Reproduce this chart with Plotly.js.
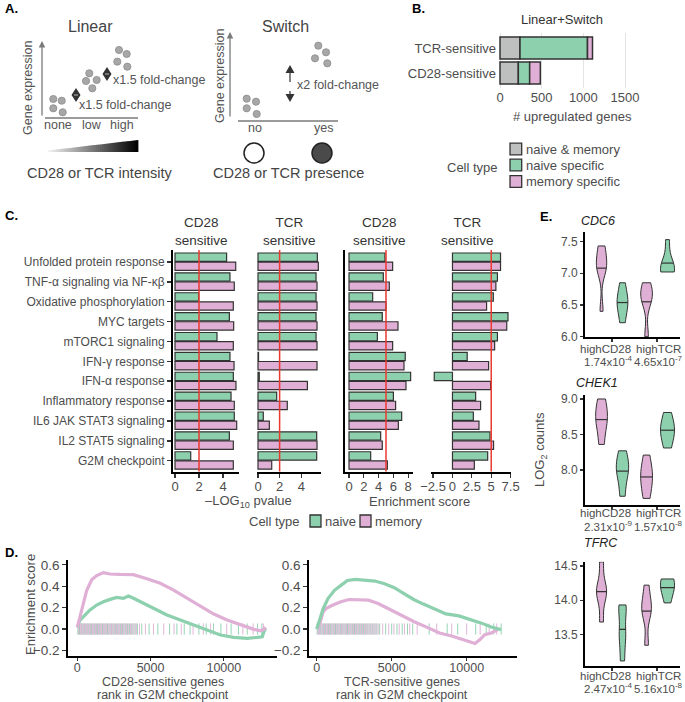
<!DOCTYPE html>
<html><head><meta charset="utf-8">
<script src="https://cdn.plot.ly/plotly-3.0.1.min.js"></script>
<style>body{margin:0;background:#fff}#chart{width:685px;height:702px}
#chart path.meanline{stroke-dasharray:none!important}</style>
</head><body><div id="chart"></div>
<script>
// ---------------- DATA ----------------
// Panel B
const bCategories = ["CD28-sensitive", "TCR-sensitive"];
const bNaiveMemory = [220, 240];
const bNaiveSpecific = [136, 810];
const bMemorySpecific = [128, 60];
const bTicks = [0, 500, 1000, 1500];

// Panel C
const pathways = ["Unfolded protein response", "TNF-α signaling via NF-κβ", "Oxidative phosphorylation",
  "MYC targets", "mTORC1 signaling", "IFN-γ response", "IFN-α response", "Inflammatory response",
  "IL6 JAK STAT3 signaling", "IL2 STAT5 signaling", "G2M checkpoint"];
const cd28PvalNaive  = [4.30, 4.58, 1.97, 4.53, 3.50, 4.58, 4.86, 4.67, 4.94, 4.53, 1.31];
const cd28PvalMemory = [5.06, 4.94, 4.86, 4.89, 4.86, 4.92, 5.08, 4.94, 5.14, 4.86, 4.86];
const tcrPvalNaive   = [5.49, 5.37, 5.37, 5.37, 5.37, 0.05, 0.12, 1.73, 0.49, 5.43, 5.43];
const tcrPvalMemory  = [5.58, 5.46, 5.46, 5.46, 5.46, 5.46, 4.57, 2.71, 1.05, 5.46, 1.27];
const cd28EsNaive    = [4.86, 4.64, 3.20, 4.50, 3.83, 7.60, 8.33, 6.00, 7.12, 4.28, 2.93];
const cd28EsMemory   = [5.90, 5.45, 5.00, 6.62, 5.90, 7.43, 7.70, 6.30, 6.67, 4.50, 5.18];
const tcrEsNaive     = [6.20, 5.80, 5.27, 7.16, 5.80, 1.90, -2.35, 2.99, 2.69, 4.84, 4.54];
const tcrEsMemory    = [6.20, 5.60, 4.40, 7.00, 5.44, 4.66, 4.92, 3.63, 3.42, 5.30, 2.82];
const pvalCutoff = 2;
const esCutoff = 5;

// Panel D (running enrichment score)
const d1MemoryRank = [0, 297, 639, 982, 1324, 1781, 2237, 2922, 3835, 4749, 5662, 6575, 7488, 8401, 9315, 10228, 11141, 12054, 12510, 12739, 12853];
const d1MemoryES   = [0.016, 0.19, 0.36, 0.46, 0.50, 0.527, 0.514, 0.51, 0.508, 0.47, 0.427, 0.364, 0.287, 0.209, 0.14, 0.084, 0.037, -0.003, -0.016, -0.003, 0.016];
const d1NaiveRank  = [0, 183, 525, 868, 1324, 1781, 2237, 2694, 3150, 3493, 3835, 4520, 5205, 6119, 7032, 7945, 8858, 9771, 10684, 11598, 12283, 12625, 12739, 12853];
const d1NaiveES    = [0.016, 0.084, 0.13, 0.178, 0.224, 0.255, 0.277, 0.296, 0.287, 0.308, 0.287, 0.24, 0.193, 0.131, 0.084, 0.037, -0.009, -0.056, -0.078, -0.087, -0.078, -0.072, -0.025, 0.006];
const d2NaiveRank  = [0, 216, 431, 754, 1185, 1616, 2047, 2586, 3232, 3879, 4525, 5172, 5818, 6465, 7112, 7758, 8620, 9482, 10344, 10990, 11637, 12068, 12284];
const d2NaiveES    = [0, 0.086, 0.19, 0.285, 0.362, 0.408, 0.454, 0.463, 0.454, 0.448, 0.423, 0.386, 0.331, 0.276, 0.233, 0.193, 0.141, 0.123, 0.086, 0.055, 0.018, 0.0, -0.006];
const d2MemoryRank = [0, 216, 431, 646, 1077, 1616, 2155, 2802, 3448, 4094, 4741, 5603, 6465, 7327, 8189, 9051, 9913, 10559, 10882, 11205, 11637, 12068];
const d2MemoryES   = [0, 0.055, 0.163, 0.193, 0.224, 0.255, 0.276, 0.276, 0.27, 0.239, 0.193, 0.132, 0.071, 0.018, -0.037, -0.067, -0.104, -0.135, -0.098, -0.052, -0.037, -0.006];
const d1RugNaive  = [40,150,260,330,450,540,660,750,880,960,1080,1190,1300,1380,1500,1610,1720,1830,1950,2060,2170,2290,2380,2510,2620,2730,2850,2960,3080,3190,3310,3420,3560,3680,3800,3950,4100,4400,4900,5500,6300,6800,7300,7700,8300,8800,9300,9800,10500,11000,11600,12300,12600];
const d1RugMemory = [90,200,300,400,500,610,710,820,920,1030,1130,1240,1350,1450,1560,1670,1780,1890,2000,2110,2230,2340,2450,2560,2680,2790,2900,3020,3130,3250,3370,3480,3620,3740,3880,4030,4250,4650,5200,5900,6600,7100,7900,8600,9100,10200,11300,12000,12700];
const d2RugNaive  = [30,140,240,360,470,580,700,790,910,1020,1140,1250,1370,1480,1600,1700,1820,1940,2050,2160,2280,2400,2520,2640,2760,2870,3000,3110,3240,3360,3490,3610,3740,3880,4010,4200,4600,5000,5350,5700,6050,6400,7500,8700,9400,10600,11300,11800,12300];
const d2RugMemory = [80,190,300,410,520,640,740,850,970,1080,1190,1310,1420,1540,1650,1760,1880,1990,2110,2220,2340,2460,2580,2700,2810,2930,3060,3180,3300,3420,3550,3680,3810,3950,4100,4400,4800,5150,5500,5850,6200,6700,8000,9000,10000,10900,11500,12000];

// Panel E (log2 counts per sample)
const conditions = ["highCD28", "highTCR"];
const cdc6PLabels  = ["1.74x10<sup>-4</sup>", "4.65x10<sup>-7</sup>"];
const chek1PLabels = ["2.31x10<sup>-9</sup>", "1.57x10<sup>-8</sup>"];
const tfrcPLabels  = ["2.47x10<sup>-4</sup>", "5.16x10<sup>-8</sup>"];
const cdc6MemCD28   = [6.40, 7.05, 7.15, 7.35, 7.43, 7.10];
const cdc6MemTCR    = [6.00, 6.55, 6.65, 6.70, 6.85];
const cdc6NaiveCD28 = [6.22, 6.45, 6.55, 6.62, 6.85];
const cdc6NaiveTCR  = [7.02, 7.05, 7.08, 7.12, 7.53];
const chek1MemCD28   = [8.36, 8.62, 8.72, 8.85, 9.00];
const chek1MemTCR    = [7.60, 7.78, 7.92, 8.00, 8.21];
const chek1NaiveCD28 = [7.63, 7.90, 8.02, 8.10, 8.27];
const chek1NaiveTCR  = [8.31, 8.48, 8.58, 8.62, 8.81];
const tfrcMemCD28   = [13.68, 14.05, 14.13, 14.20, 14.56];
const tfrcMemTCR    = [13.34, 13.78, 13.88, 13.98, 14.22];
const tfrcNaiveCD28 = [13.11, 13.40, 13.57, 13.85, 13.93];
const tfrcNaiveTCR  = [13.96, 14.15, 14.22, 14.28, 14.31];

// ---------------- HELPERS ----------------
const W = 685, H = 702;
const fx = x => x / W, fy = y => 1 - y / H;
const dx = (a, b) => [a / W, b / W];
const dy = (top, bot) => [1 - bot / H, 1 - top / H];
const GREEN = '#8cd0ae', PINK = '#dfafd5', GRAY = '#bdc0be', OUT = '#333333', TXT = '#4d4d4d';
const FONT = 'Liberation Sans, Arial, Helvetica, sans-serif';
const traces = [], shapes = [], ann = [];

function text(x, y, t, opt) {
  const o = Object.assign({xref: 'paper', yref: 'paper', x: fx(x), y: fy(y), text: t, showarrow: false,
    xanchor: 'center', yanchor: 'middle', font: {size: 13, color: TXT, family: FONT}}, opt || {});
  ann.push(o);
}
function circ(x, y, r, fill, lc, lw) {
  shapes.push({type: 'circle', xref: 'paper', yref: 'paper', x0: fx(x - r), x1: fx(x + r), y0: fy(y + r), y1: fy(y - r),
    fillcolor: fill, line: {color: lc, width: lw}});
}
function seg(x0, y0, x1, y1, color, w, dash) {
  shapes.push({type: 'line', xref: 'paper', yref: 'paper', x0: fx(x0), y0: fy(y0), x1: fx(x1), y1: fy(y1),
    line: {color: color, width: w, dash: dash || 'solid'}});
}
function poly(pts, fill, lc, lw) {
  const d = pts.map((p, i) => (i ? 'L' : 'M') + fx(p[0]).toFixed(5) + ',' + fy(p[1]).toFixed(5)).join(' ') + ' Z';
  shapes.push({type: 'path', xref: 'paper', yref: 'paper', path: d, fillcolor: fill, line: {color: lc || fill, width: lw || 0}});
}

// ---------------- PANEL A (schematic) ----------------
text(3, 8, '<b>A.</b>', {xanchor: 'left', font: {size: 13, color: '#000', family: FONT}});
text(90, 27, 'Linear', {font: {size: 16, color: '#444', family: FONT}});
text(285, 27, 'Switch', {font: {size: 16, color: '#444', family: FONT}});
text(28, 88, 'Gene expression', {textangle: -90, font: {size: 12.5, color: '#555', family: FONT}});
text(220, 76, 'Gene expression', {textangle: -90, font: {size: 12.5, color: '#555', family: FONT}});
ann.push({xref: 'paper', yref: 'paper', x: fx(42), y: fy(41), ax: 0, ay: 76, showarrow: true, arrowhead: 2, arrowsize: 1, arrowwidth: 1.3, arrowcolor: '#7a7a7a', text: ''});
ann.push({xref: 'paper', yref: 'paper', x: fx(230), y: fy(32), ax: 0, ay: 86, showarrow: true, arrowhead: 2, arrowsize: 1, arrowwidth: 1.3, arrowcolor: '#7a7a7a', text: ''});
seg(45, 118, 138, 118, '#7a7a7a', 1.3);
seg(238, 121, 338, 121, '#7a7a7a', 1.3);
text(58, 125, 'none', {font: {size: 12.5, color: '#555', family: FONT}});
text(92, 125, 'low', {font: {size: 12.5, color: '#555', family: FONT}});
text(122, 125, 'high', {font: {size: 12.5, color: '#555', family: FONT}});
text(255, 128, 'no', {font: {size: 12.5, color: '#555', family: FONT}});
text(323, 128, 'yes', {font: {size: 12.5, color: '#555', family: FONT}});
[[53.3,99],[61.7,100.7],[53.3,108.3],[62.7,112.3],[89.3,73.3],[86,81],[96.7,80],[92.3,88.3],
 [119,50],[126.7,54],[117.3,61.7],[127.3,66.7],
 [246.7,98.7],[256,101.7],[246.7,108.3],[256.7,114],[318.3,45.7],[326,52.3],[315,58.3],[327.3,63.3]]
  .forEach(p => circ(p[0], p[1], 3.6, '#a7a7a7', '#8c8c8c', 0.8));
[[76, 95], [107, 74]].forEach(p => {
  poly([[p[0], p[1] - 7], [p[0] + 4.5, p[1]], [p[0], p[1] + 7], [p[0] - 4.5, p[1]]], '#333');
  seg(p[0] - 2, p[1], p[0] + 2, p[1], '#ddd', 0.8);
});
text(77, 105, 'x1.5 fold-change', {xanchor: 'left', font: {size: 12.5, color: '#555', family: FONT}});
text(111, 80, 'x1.5 fold-change', {xanchor: 'left', font: {size: 12.5, color: '#555', family: FONT}});
seg(290, 73, 290, 94, '#333', 1.2, 'dash');
poly([[290, 65], [285.5, 73], [294.5, 73]], '#333');
poly([[290, 102], [285.5, 94], [294.5, 94]], '#333');
text(295, 85, 'x2 fold-change', {xanchor: 'left', font: {size: 12.5, color: '#555', family: FONT}});
// gradient wedge
(function () {
  const n = 45, x0 = 48, x1 = 138;
  for (let i = 0; i < n; i++) {
    const a = x0 + (x1 - x0) * i / n, b = x0 + (x1 - x0) * (i + 1) / n + 0.4;
    const ta = 150.5 - (a - x0) / (x1 - x0) * 10.5, tb = 150.5 - (b - x0) / (x1 - x0) * 10.5;
    const g = Math.round(240 * (1 - i / (n - 1)));
    poly([[a, ta], [b, tb], [b, 152], [a, 152]], `rgb(${g},${g},${g})`);
  }
})();
text(100, 173, 'CD28 or TCR intensity', {font: {size: 14.5, color: '#444', family: FONT}});
circ(254, 153, 10, '#ffffff', '#222', 1.5);
circ(322, 153, 10, '#4a4a4a', '#222', 1.5);
text(288, 173, 'CD28 or TCR presence', {font: {size: 14.5, color: '#444', family: FONT}});

// ---------------- PANEL B ----------------
text(410, 8, '<b>B.</b>', {xanchor: 'left', font: {size: 13, color: '#000', family: FONT}});
text(562, 20, 'Linear+Switch', {font: {size: 13, color: '#333', family: FONT}});
const bBase2 = bNaiveMemory;
const bBase3 = bNaiveMemory.map((v, i) => v + bNaiveSpecific[i]);
[[bNaiveMemory, bNaiveMemory.map(() => 0), GRAY], [bNaiveSpecific, bBase2, GREEN], [bMemorySpecific, bBase3, PINK]]
  .forEach(s => traces.push({type: 'bar', orientation: 'h', y: bCategories, x: s[0], base: s[1], width: 0.88,
    marker: {color: s[2], line: {color: OUT, width: 1.5}}, xaxis: 'x', yaxis: 'y', showlegend: false, hoverinfo: 'skip'}));
text(572, 117, '# upregulated genes', {font: {size: 13, color: TXT, family: FONT}});
text(500, 167, 'Cell type', {xanchor: 'right', font: {size: 13, color: TXT, family: FONT}});
[['naive &amp; memory', GRAY, 149], ['naive specific', GREEN, 165], ['memory specific', PINK, 181.5]].forEach(l => {
  poly([[510, l[2] - 5.8], [521.7, l[2] - 5.8], [521.7, l[2] + 5.8], [510, l[2] + 5.8]], l[1], OUT, 1.3);
  text(524, l[2], l[0], {xanchor: 'left', font: {size: 13, color: TXT, family: FONT}});
});

// ---------------- PANEL C ----------------
text(3, 215, '<b>C.</b>', {xanchor: 'left', font: {size: 13, color: '#000', family: FONT}});
const cPanels = [
  [cd28PvalNaive, cd28PvalMemory, 'x2', 'y2', pvalCutoff, 201.7, 'CD28'],
  [tcrPvalNaive, tcrPvalMemory, 'x3', 'y3', pvalCutoff, 289.3, 'TCR'],
  [cd28EsNaive, cd28EsMemory, 'x4', 'y4', esCutoff, 379.3, 'CD28'],
  [tcrEsNaive, tcrEsMemory, 'x5', 'y5', esCutoff, 467.3, 'TCR']];
cPanels.forEach(p => {
  traces.push({type: 'bar', orientation: 'h', y: pathways, x: p[0], offset: -0.45, width: 0.42,
    marker: {color: GREEN, line: {color: OUT, width: 1.2}}, xaxis: p[2], yaxis: p[3], showlegend: false, hoverinfo: 'skip'});
  traces.push({type: 'bar', orientation: 'h', y: pathways, x: p[1], offset: 0.01, width: 0.42,
    marker: {color: PINK, line: {color: OUT, width: 1.2}}, xaxis: p[2], yaxis: p[3], showlegend: false, hoverinfo: 'skip'});
  shapes.push({type: 'line', xref: p[2], yref: p[3] + ' domain', x0: p[4], x1: p[4], y0: 0, y1: 1,
    line: {color: '#ea3a30', width: 1.5}});
  text(p[5], 232, p[6] + '<br>sensitive', {font: {size: 13.5, color: '#333', family: FONT}});
});
text(248, 501.5, '–LOG<sub>10</sub> pvalue', {font: {size: 13, color: TXT, family: FONT}});
text(419, 501.5, 'Enrichment score', {font: {size: 13, color: TXT, family: FONT}});
text(302, 521, 'Cell type', {xanchor: 'right', font: {size: 13, color: TXT, family: FONT}});
poly([[310, 515], [321, 515], [321, 527], [310, 527]], GREEN, OUT, 1.3);
text(323, 521, 'naive', {xanchor: 'left', font: {size: 13, color: TXT, family: FONT}});
poly([[360, 515], [371, 515], [371, 527], [360, 527]], PINK, OUT, 1.3);
text(373, 521, 'memory', {xanchor: 'left', font: {size: 13, color: TXT, family: FONT}});

// ---------------- PANEL D ----------------
text(3, 552, '<b>D.</b>', {xanchor: 'left', font: {size: 13, color: '#000', family: FONT}});
function rug(xs, color, xa, ya) {
  traces.push({type: 'scatter', mode: 'markers', x: xs, y: xs.map(() => 0), xaxis: xa, yaxis: ya,
    marker: {symbol: 'line-ns-open', size: 8, color: color, line: {color: color, width: 1}}, opacity: 0.9,
    showlegend: false, hoverinfo: 'skip'});
}
function esLine(xs, ys, color, xa, ya) {
  traces.push({type: 'scatter', mode: 'lines', x: xs, y: ys, xaxis: xa, yaxis: ya,
    line: {color: color, width: 3.2}, showlegend: false, hoverinfo: 'skip'});
}
rug(d1RugNaive, GREEN, 'x6', 'y6'); rug(d1RugMemory, PINK, 'x6', 'y6');
esLine(d1NaiveRank, d1NaiveES, GREEN, 'x6', 'y6'); esLine(d1MemoryRank, d1MemoryES, PINK, 'x6', 'y6');
rug(d2RugNaive, GREEN, 'x7', 'y7'); rug(d2RugMemory, PINK, 'x7', 'y7');
esLine(d2MemoryRank, d2MemoryES, PINK, 'x7', 'y7'); esLine(d2NaiveRank, d2NaiveES, GREEN, 'x7', 'y7');
text(30, 605, 'Enrichment score', {textangle: -90, font: {size: 13, color: TXT, family: FONT}});
text(163, 682, 'CD28-sensitive genes', {font: {size: 12.5, color: TXT, family: FONT}});
text(163, 695, 'rank in G2M checkpoint', {font: {size: 12.5, color: TXT, family: FONT}});
text(402, 682, 'TCR-sensitive genes', {font: {size: 12.5, color: TXT, family: FONT}});
text(402, 695, 'rank in G2M checkpoint', {font: {size: 12.5, color: TXT, family: FONT}});

// ---------------- PANEL E ----------------
text(538, 217, '<b>E.</b>', {xanchor: 'left', font: {size: 13, color: '#000', family: FONT}});
function violins(gene, memCD28, memTCR, naiveCD28, naiveTCR, xa, ya, bw) {
  [[memCD28, memTCR, PINK, 'memory'], [naiveCD28, naiveTCR, GREEN, 'naive']].forEach(s => {
    traces.push({type: 'violin', name: s[3], xaxis: xa, yaxis: ya, alignmentgroup: gene, offsetgroup: s[3],
      x: s[0].map(() => conditions[0]).concat(s[1].map(() => conditions[1])),
      y: s[0].concat(s[1]), spanmode: 'hard', bandwidth: bw, scalemode: 'width', scalegroup: gene,
      points: false, fillcolor: s[2], opacity: 1, line: {color: OUT, width: 1},
      meanline: {visible: true, color: OUT, width: 1.2}, showlegend: false, hoverinfo: 'skip'});
  });
}
violins('CDC6', cdc6MemCD28, cdc6MemTCR, cdc6NaiveCD28, cdc6NaiveTCR, 'x8', 'y8', 0.16);
violins('CHEK1', chek1MemCD28, chek1MemTCR, chek1NaiveCD28, chek1NaiveTCR, 'x9', 'y9', 0.15);
violins('TFRC', tfrcMemCD28, tfrcMemTCR, tfrcNaiveCD28, tfrcNaiveTCR, 'x10', 'y10', 0.15);
text(598, 221, '<i>CDC6</i>', {font: {size: 12.5, color: '#222', family: FONT}});
text(597, 383, '<i>CHEK1</i>', {font: {size: 12.5, color: '#222', family: FONT}});
text(601, 543, '<i>TFRC</i>', {font: {size: 12.5, color: '#222', family: FONT}});
text(540, 450, 'LOG<sub>2</sub> counts', {textangle: -90, font: {size: 13, color: TXT, family: FONT}});
// condition labels with p-values under each violin plot
[[cdc6PLabels, 349, 360.5], [chek1PLabels, 513, 526], [tfrcPLabels, 676, 687.5]].forEach(r => {
  text(605, r[1], conditions[0], {font: {size: 11.5, color: TXT, family: FONT}});
  text(658, r[1], conditions[1], {font: {size: 11.5, color: TXT, family: FONT}});
  text(608, r[2], r[0][0], {font: {size: 11.5, color: TXT, family: FONT}});
  text(658, r[2], r[0][1], {font: {size: 11.5, color: TXT, family: FONT}});
});

// ---------------- AXES ----------------
const tf = s => ({size: s, color: TXT, family: FONT});
const lineAx = {showline: true, linecolor: '#000', linewidth: 2, ticks: 'outside', ticklen: 4, tickwidth: 1.2,
  tickcolor: '#333', showgrid: false, zeroline: false, fixedrange: true};
const catY = {type: 'category', categoryorder: 'array', categoryarray: pathways, range: [10.55, -0.6],
  showgrid: false, zeroline: false, fixedrange: true};

const layout = {
  width: W, height: H, margin: {l: 0, r: 0, t: 0, b: 0, pad: 0}, paper_bgcolor: '#fff', plot_bgcolor: 'rgba(0,0,0,0)',
  font: {family: FONT, size: 13, color: TXT}, showlegend: false, barmode: 'overlay',
  violinmode: 'group', violingap: 0.07, violingroupgap: 0.33,
  xaxis: {domain: dx(497, 640), anchor: 'y', range: [-36, 1680], tickvals: bTicks, showgrid: true, gridcolor: '#e4e4e4',
    gridwidth: 1, zeroline: false, showline: false, ticks: '', tickfont: tf(13), fixedrange: true},
  yaxis: {domain: dy(33, 88), anchor: 'x', type: 'category', categoryorder: 'array', categoryarray: bCategories,
    range: [-0.6, 1.6], showgrid: false, zeroline: false, ticks: '', tickfont: tf(13), fixedrange: true},
  xaxis2: Object.assign({}, lineAx, {domain: dx(173, 239), anchor: 'y2', range: [-0.167, 5.333], tickvals: [0, 2, 4], ticklabelstandoff: -2, tickfont: tf(13)}),
  yaxis2: Object.assign({}, catY, {domain: dy(250, 471.6), anchor: 'x2', showline: true, linecolor: '#000', linewidth: 2,
    ticks: 'outside', ticklen: 4, tickwidth: 1.5, tickcolor: '#333', tickfont: tf(12)}),
  xaxis3: Object.assign({}, lineAx, {domain: dx(256.7, 320.7), anchor: 'y3', range: [-0.12, 5.8], tickvals: [0, 2, 4], ticklabelstandoff: -2, tickfont: tf(13)}),
  yaxis3: Object.assign({}, catY, {domain: dy(250, 471.6), anchor: 'x3', showline: false, showticklabels: false, ticks: ''}),
  xaxis4: Object.assign({}, lineAx, {domain: dx(345, 413.3), anchor: 'y4', range: [-0.54, 8.69], tickvals: [0, 2, 4, 6, 8], ticklabelstandoff: -2, tickfont: tf(13)}),
  yaxis4: Object.assign({}, catY, {domain: dy(250, 471.6), anchor: 'x4', showline: true, linecolor: '#000', linewidth: 2,
    showticklabels: false, ticks: ''}),
  xaxis5: Object.assign({}, lineAx, {domain: dx(431, 511), anchor: 'y5', range: [-2.77, 7.55], tickvals: [-2.5, 0, 2.5, 5, 7.5], ticklabelstandoff: -2, tickfont: tf(13)}),
  yaxis5: Object.assign({}, catY, {domain: dy(250, 471.6), anchor: 'x5', showline: false, showticklabels: false, ticks: ''}),
  xaxis6: Object.assign({}, lineAx, {domain: dx(68.3, 276.7), anchor: 'y6', range: [-614, 13611], tickvals: [0, 5000, 10000], tickformat: 'd', ticklen: 3, ticklabelstandoff: -4, tickfont: tf(12.5)}),
  yaxis6: Object.assign({}, lineAx, {domain: dy(560, 656), anchor: 'x6', range: [-0.252, 0.645], tickvals: [-0.2, 0, 0.2, 0.4, 0.6], tickformat: '.1f', tickfont: tf(13.5)}),
  xaxis7: Object.assign({}, lineAx, {domain: dx(309.3, 516.7), anchor: 'y7', range: [-493, 13333], tickvals: [0, 5000, 10000], tickformat: 'd', ticklen: 3, ticklabelstandoff: -4, tickfont: tf(12.5)}),
  yaxis7: Object.assign({}, lineAx, {domain: dy(560, 656), anchor: 'x7', range: [-0.252, 0.645], tickvals: [-0.2, 0, 0.2, 0.4, 0.6], tickformat: '.1f', tickfont: tf(13.5)}),
  shapes: shapes, annotations: ann
};
[['8', dy(232, 337), [5.995, 7.65], [6, 6.5, 7, 7.5]],
 ['9', dy(395, 505), [7.507, 9.056], [8, 8.5, 9]],
 ['10', dy(561.7, 666), [13.036, 14.563], [13.5, 14, 14.5]]].forEach(e => {
  layout['xaxis' + e[0]] = Object.assign({}, lineAx, {domain: dx(585, 680), anchor: 'y' + e[0], type: 'category',
    categoryorder: 'array', categoryarray: conditions, range: [-0.6, 1.51], tickvals: conditions,
    showticklabels: false, ticklen: 3});
  layout['yaxis' + e[0]] = Object.assign({}, lineAx, {domain: e[1], anchor: 'x' + e[0], range: e[2], tickvals: e[3],
    tickformat: '.1f', ticklen: 3, tickfont: tf(12)});
});

Plotly.newPlot('chart', traces, layout, {staticPlot: true, displayModeBar: false});
</script>
</body></html>
